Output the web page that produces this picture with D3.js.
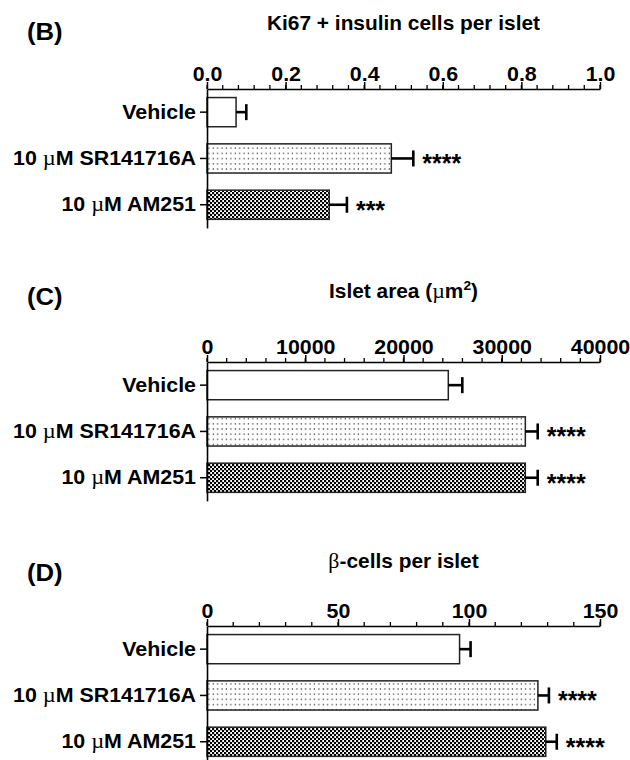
<!DOCTYPE html>
<html>
<head>
<meta charset="utf-8">
<script src="https://cdn.jsdelivr.net/npm/d3@7"></script>
<style>
  html, body { margin: 0; padding: 0; background: #fff; }
  svg { display: block; }
  text { font-family: "Liberation Sans", Arial, sans-serif; font-weight: bold; fill: #000; }
</style>
</head>
<body>
<svg id="chart" width="630" height="760"></svg>
<script>
// ---------------- data ----------------
const categories = ["Vehicle", "10 µM SR141716A", "10 µM AM251"];

const panelLetters = ["(B)", "(C)", "(D)"];
const panelTitles = ["Ki67 + insulin cells per islet", "Islet area (µm²)", "β-cells per islet"];

const ki67Means  = [0.074, 0.469, 0.311];
const ki67Errors = [0.026, 0.056, 0.045];
const ki67Stars  = ["", "****", "***"];
const ki67Ticks  = [0, 0.2, 0.4, 0.6, 0.8, 1.0];
const ki67Minor  = 0.04;

const areaMeans  = [24560, 32400, 32400];
const areaErrors = [1425, 1260, 1260];
const areaStars  = ["", "****", "****"];
const areaTicks  = [0, 10000, 20000, 30000, 40000];
const areaMinor  = 2000;

const betaMeans  = [96.4, 126.3, 129.3];
const betaErrors = [4.2, 4.2, 4.2];
const betaStars  = ["", "****", "****"];
const betaTicks  = [0, 50, 100, 150];
const betaMinor  = 10;

const patterns = ["none", "dots", "checker"];

// ---------------- layout ----------------
const SX = 1.07;             // horizontal stretch of the text
const FS = 20;               // label font size
const X0 = 207, X1 = 600;
const STEP = 46.3;

const panels = [
  { letter: panelLetters[0], title: panelTitles[0], means: ki67Means, errors: ki67Errors, stars: ki67Stars,
    ticks: ki67Ticks, minor: ki67Minor, fmt: d3.format(".1f"), axisY: 89, titleY: 30, letterY: 40 },
  { letter: panelLetters[1], title: panelTitles[1], means: areaMeans, errors: areaErrors, stars: areaStars,
    ticks: areaTicks, minor: areaMinor, fmt: d3.format("d"), axisY: 362, titleY: 298, letterY: 305 },
  { letter: panelLetters[2], title: panelTitles[2], means: betaMeans, errors: betaErrors, stars: betaStars,
    ticks: betaTicks, minor: betaMinor, fmt: d3.format("d"), axisY: 626, titleY: 568, letterY: 581 }
];

const svg = d3.select("#chart");

// patterns
const defs = svg.append("defs");
const pd = defs.append("pattern").attr("id", "dots").attr("patternUnits", "userSpaceOnUse")
  .attr("width", 4.4).attr("height", 5.2);
pd.append("rect").attr("width", 4.4).attr("height", 5.2).attr("fill", "#fff");
pd.append("rect").attr("x", 1.5).attr("y", 2).attr("width", 1.2).attr("height", 1.2).attr("fill", "#222");

const pc = defs.append("pattern").attr("id", "checker").attr("patternUnits", "userSpaceOnUse")
  .attr("width", 4).attr("height", 4);
pc.append("rect").attr("width", 4).attr("height", 4).attr("fill", "#fff");
pc.append("rect").attr("x", 0).attr("y", 0).attr("width", 2.2).attr("height", 2.2).attr("fill", "#000");
pc.append("rect").attr("x", 2).attr("y", 2).attr("width", 2.2).attr("height", 2.2).attr("fill", "#000");

// write a label, rendering µ / β in a light serif face and ² as a superscript
function fillRich(textSel, str, size) {
  textSel.text(null);
  let buf = "";
  let pendingDy = 0;
  const flush = () => {
    if (buf) {
      const ts = textSel.append("tspan").text(buf);
      if (pendingDy) { ts.attr("dy", pendingDy); pendingDy = 0; }
      buf = "";
    }
  };
  for (const ch of str) {
    if (ch === "µ" || ch === "β") {
      flush();
      const ts = textSel.append("tspan").attr("font-family", "'Liberation Serif', 'DejaVu Serif', serif")
        .attr("font-weight", "normal").attr("font-size", size * 1.05).text(ch);
      if (pendingDy) { ts.attr("dy", pendingDy); pendingDy = 0; }
    } else if (ch === "²") {
      flush();
      textSel.append("tspan").attr("dy", -size * 0.42).attr("font-size", size * 0.66).text("2");
      pendingDy = size * 0.42;
    } else {
      buf += ch;
    }
  }
  flush();
}

panels.forEach(p => {
  const g = svg.append("g");
  const x = d3.scaleLinear().domain([p.ticks[0], p.ticks[p.ticks.length - 1]]).range([X0, X1]);
  const y = d3.scaleBand().domain(categories).range([p.axisY, p.axisY + STEP * categories.length]).padding(0);
  const bh = y.bandwidth() * 0.63;

  // panel letter
  g.append("text").attr("transform", `translate(27,${p.letterY}) scale(${SX},1)`)
    .attr("font-size", 24).text(p.letter);

  // title
  const t = g.append("text").attr("transform", `translate(${(X0 + X1) / 2},${p.titleY}) scale(${SX},1)`)
    .attr("text-anchor", "middle").attr("font-size", 19.5);
  fillRich(t, p.title, 19.5);

  // bars
  const rows = categories.map((c, i) => ({ c, m: p.means[i], e: p.errors[i], s: p.stars[i], pat: patterns[i] }));
  g.selectAll("rect.bar").data(rows).join("rect").attr("class", "bar")
    .attr("x", x(0)).attr("width", d => x(d.m) - x(0))
    .attr("y", d => y(d.c) + (y.bandwidth() - bh) / 2).attr("height", bh)
    .attr("fill", d => d.pat === "none" ? "#fff" : `url(#${d.pat})`)
    .attr("stroke", "#222").attr("stroke-width", 1.5);

  // error bars
  g.selectAll("line.err").data(rows).join("line").attr("class", "err")
    .attr("x1", d => x(d.m)).attr("x2", d => x(d.m + d.e))
    .attr("y1", d => y(d.c) + y.bandwidth() / 2).attr("y2", d => y(d.c) + y.bandwidth() / 2)
    .attr("stroke", "#000").attr("stroke-width", 2.6);
  g.selectAll("line.cap").data(rows).join("line").attr("class", "cap")
    .attr("x1", d => x(d.m + d.e)).attr("x2", d => x(d.m + d.e))
    .attr("y1", d => y(d.c) + y.bandwidth() / 2 - 8).attr("y2", d => y(d.c) + y.bandwidth() / 2 + 8)
    .attr("stroke", "#000").attr("stroke-width", 2.6);

  // significance stars
  g.selectAll("text.star").data(rows.filter(d => d.s)).join("text").attr("class", "star")
    .attr("transform", d => `translate(${x(d.m + d.e) + 9},${y(d.c) + y.bandwidth() / 2 + 14}) scale(1.0,1)`)
    .attr("font-size", 25).text(d => d.s);

  // top axis
  const ax = g.append("g").attr("transform", `translate(0,${p.axisY})`)
    .call(d3.axisTop(x).tickValues(p.ticks).tickFormat(p.fmt).tickSize(7).tickSizeOuter(0).tickPadding(1));
  ax.select(".domain").attr("stroke", "#000").attr("stroke-width", 1.6);
  ax.selectAll(".tick line").attr("stroke", "#000").attr("stroke-width", 1.5);
  ax.selectAll(".tick text").attr("font-size", FS).attr("font-family", null)
    .attr("transform", `scale(${SX},1)`).attr("fill", "#000");
  const minors = d3.range(p.ticks[0], p.ticks[p.ticks.length - 1] + p.minor / 2, p.minor);
  ax.selectAll("line.minor").data(minors).join("line").attr("class", "minor")
    .attr("x1", d => x(d)).attr("x2", d => x(d)).attr("y1", 0).attr("y2", -4)
    .attr("stroke", "#000").attr("stroke-width", 1.3);

  // left axis
  const ay = g.append("g").attr("transform", `translate(${X0},0)`)
    .call(d3.axisLeft(y).tickSize(7).tickSizeOuter(0));
  ay.select(".domain").attr("stroke", "#000").attr("stroke-width", 1.6);
  ay.selectAll(".tick line").attr("stroke", "#000").attr("stroke-width", 1.5);
  ay.selectAll(".tick text").attr("font-size", FS).attr("font-family", null).attr("fill", "#000")
    .attr("x", -11 / SX).attr("transform", `scale(${SX},1)`)
    .each(function (d) { fillRich(d3.select(this), d, FS); });
});
</script>
</body>
</html>
